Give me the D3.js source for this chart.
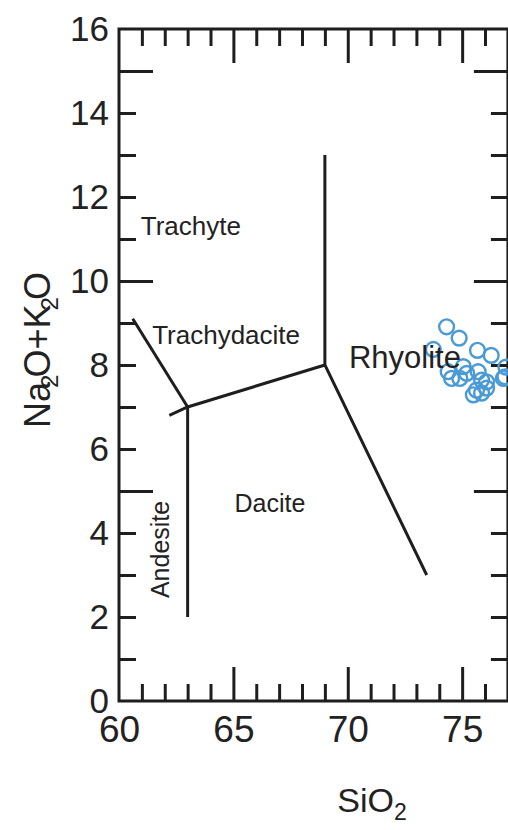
<!DOCTYPE html>
<html>
<head>
<meta charset="utf-8">
<script src="https://cdn.jsdelivr.net/npm/d3@7/dist/d3.min.js"></script>
<style>
  html, body { margin: 0; padding: 0; background: #fff; }
  svg { display: block; }
  text { font-family: "Liberation Sans", Arial, Helvetica, sans-serif; fill: #222; }
</style>
</head>
<body>
<svg id="chart" width="508" height="830"></svg>
<script>
// ---- data ----
const xTickLabels = [60, 65, 70, 75];
const xMinorTicks = [61, 62, 63, 64, 66, 67, 68, 69, 71, 72, 73, 74, 76];
const yTickLabels = [0, 2, 4, 6, 8, 10, 12, 14, 16];
const yMajorTicks = [5, 10, 15];
const yMinorTicks = [1, 2, 3, 4, 6, 7, 8, 9, 11, 12, 13, 14];

// field boundaries (SiO2, Na2O+K2O)
const boundaryA = [[60.6, 9.1], [63, 7]];
const boundaryB = [[62.2, 6.8], [63, 7], [69, 8]];
const boundaryC = [[63, 7], [63, 2]];
const boundaryD = [[69, 13], [69, 8], [73.45, 3]];

// field names
const fieldNames = ["Trachyte", "Trachydacite", "Rhyolite", "Dacite", "Andesite"];
const fieldX = [60.95, 61.45, 70.05, 65.05, 62.2];
const fieldY = [11.1, 8.5, 7.92, 4.5, 2.45];

// samples
const sampleSiO2 = [74.32, 74.87, 75.67, 76.27, 76.91, 76.87, 73.74, 74.39, 74.54, 75.05,
                    75.20, 74.90, 75.70, 75.85, 76.07, 75.63, 75.49, 75.85, 76.07, 76.80];
const sampleAlk  = [8.91, 8.64, 8.35, 8.23, 7.95, 7.72, 8.37, 7.84, 7.68, 7.96,
                    7.80, 7.68, 7.84, 7.64, 7.60, 7.40, 7.29, 7.33, 7.45, 7.68];

// ---- layout ----
const L = 119, R = 507.9, T = 29, B = 701;
const svg = d3.select("#chart");
const x = d3.scaleLinear().domain([60, 77]).range([L, R]);
const y = d3.scaleLinear().domain([0, 16]).range([B, T]);

const ink = "#1e1e1e";
const tickW = 3;

function styleAxis(size) {
  return g => {
    g.select(".domain").remove();
    g.selectAll(".tick line").attr("stroke", ink).attr("stroke-width", tickW);
    g.selectAll(".tick text").style("font-size", size + "px").attr("fill", "#222");
  };
}

// bottom
svg.append("g").attr("transform", `translate(0,${B})`)
  .call(d3.axisBottom(x).tickValues(xMinorTicks).tickSize(-17).tickFormat(""))
  .call(styleAxis(0));
svg.append("g").attr("transform", `translate(0,${B})`)
  .call(d3.axisBottom(x).tickValues(xTickLabels.slice(1)).tickSize(-34).tickFormat(""))
  .call(styleAxis(0));
svg.append("g").attr("transform", `translate(0,${B})`)
  .call(d3.axisBottom(x).tickValues(xTickLabels).tickSize(0).tickPadding(15).tickFormat(d3.format("d")))
  .call(styleAxis(37));
// top
svg.append("g").attr("transform", `translate(0,${T})`)
  .call(d3.axisTop(x).tickValues(xMinorTicks).tickSize(-17).tickFormat(""))
  .call(styleAxis(0));
svg.append("g").attr("transform", `translate(0,${T})`)
  .call(d3.axisTop(x).tickValues(xTickLabels.slice(1)).tickSize(-34).tickFormat(""))
  .call(styleAxis(0));
// left
svg.append("g").attr("transform", `translate(${L},0)`)
  .call(d3.axisLeft(y).tickValues(yMinorTicks).tickSize(-17).tickFormat(""))
  .call(styleAxis(0));
svg.append("g").attr("transform", `translate(${L},0)`)
  .call(d3.axisLeft(y).tickValues(yMajorTicks).tickSize(-34).tickFormat(""))
  .call(styleAxis(0));
svg.append("g").attr("transform", `translate(${L},0)`)
  .call(d3.axisLeft(y).tickValues(yTickLabels).tickSize(0).tickPadding(10).tickFormat(d3.format("d")))
  .call(styleAxis(35));
// right
svg.append("g").attr("transform", `translate(${R},0)`)
  .call(d3.axisRight(y).tickValues(yMinorTicks).tickSize(-17).tickFormat(""))
  .call(styleAxis(0));
svg.append("g").attr("transform", `translate(${R},0)`)
  .call(d3.axisRight(y).tickValues(yMajorTicks).tickSize(-34).tickFormat(""))
  .call(styleAxis(0));

// frame
svg.append("rect")
  .attr("x", L).attr("y", T).attr("width", R - L).attr("height", B - T)
  .attr("fill", "none").attr("stroke", ink).attr("stroke-width", 3);

// boundaries
const line = d3.line().x(d => x(d[0])).y(d => y(d[1]));
svg.append("g").selectAll("path")
  .data([boundaryA, boundaryB, boundaryC, boundaryD])
  .join("path")
  .attr("d", line)
  .attr("fill", "none")
  .attr("stroke", ink)
  .attr("stroke-width", 3)
  .attr("stroke-linejoin", "miter");

// samples
svg.append("g").selectAll("circle")
  .data(sampleSiO2.map((s, i) => [s, sampleAlk[i]]))
  .join("circle")
  .attr("cx", d => x(d[0]))
  .attr("cy", d => y(d[1]))
  .attr("r", 7.4)
  .attr("fill", "none")
  .attr("stroke", "#4a9ad6")
  .attr("stroke-width", 2.4);

// field labels
const fieldSize = [26, 26, 31, 25, 25];
fieldNames.forEach((name, i) => {
  const t = svg.append("text")
    .style("font-size", fieldSize[i] + "px")
    .text(name);
  if (name === "Andesite") {
    t.attr("transform", `translate(${x(fieldX[i])},${y(fieldY[i])}) rotate(-90)`);
  } else {
    t.attr("x", x(fieldX[i])).attr("y", y(fieldY[i]));
  }
});

// axis titles
const xt = svg.append("text")
  .attr("x", 372).attr("y", 812)
  .attr("text-anchor", "middle")
  .style("font-size", "34px");
xt.append("tspan").text("SiO");
xt.append("tspan").attr("dy", 8).style("font-size", "23px").text("2");

const yt = svg.append("text")
  .attr("transform", `translate(50,${350}) rotate(-90)`)
  .attr("text-anchor", "middle")
  .style("font-size", "36px");
yt.append("tspan").text("Na");
yt.append("tspan").attr("dy", 8).attr("dx", -6).style("font-size", "24px").text("2");
yt.append("tspan").attr("dy", -8).attr("dx", -3).text("O+K");
yt.append("tspan").attr("dy", 8).attr("dx", -6).style("font-size", "24px").text("2");
yt.append("tspan").attr("dy", -8).attr("dx", -3).text("O");
</script>
</body>
</html>
